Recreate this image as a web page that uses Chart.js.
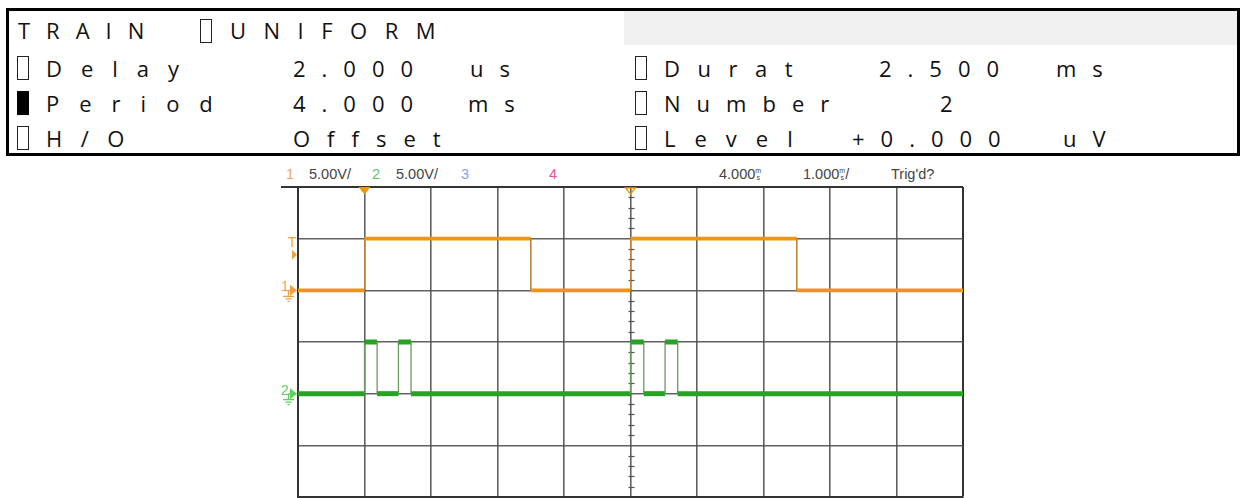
<!DOCTYPE html>
<html>
<head>
<meta charset="utf-8">
<script src="https://cdn.jsdelivr.net/npm/chart.js@4.4.1/dist/chart.umd.min.js"></script>
<style>
  html, body { margin: 0; padding: 0; background: #fff; }
  body { position: relative; width: 1243px; height: 498px; overflow: hidden; font-family: "Open Sans", "Noto Sans", sans-serif; }
  #panel { position: absolute; left: 6px; top: 8px; width: 1228px; height: 142px; border: 3px solid #000; }
  #band { position: absolute; left: 615px; top: 0; width: 613px; height: 34px; background: #f0f0f0; }
  .lcd { position: absolute; height: 30px; line-height: 30px; font-size: 22px; letter-spacing: 16px; color: #111; white-space: nowrap; }
  .cell { position: absolute; width: 10px; height: 22px; border: 1.5px solid #222; box-sizing: content-box; }
  .cell.on { background: #000; border-color: #000; }
  .hdr { position: absolute; top: 165px; height: 18px; line-height: 18px; font-family: "Liberation Sans", Arial, sans-serif; font-size: 14.5px; color: #444; white-space: nowrap; }
  .unit { display: inline-block; vertical-align: top; font-size: 7px; line-height: 7px; text-align: center; margin-top: 2px; }
  #scope { position: absolute; left: 0; top: 160px; width: 1243px; height: 338px; }
</style>
</head>
<body>
<div id="panel"><div id="band"></div></div>

<!-- row 1 -->
<div class="lcd" style="left:18px;top:15px">TRAIN</div>
<div class="cell" style="left:200px;top:19px"></div>
<div class="lcd" style="left:230px;top:15px;letter-spacing:17.5px">UNIFORM</div>
<!-- row 2 -->
<div class="cell" style="left:17px;top:56px"></div>
<div class="lcd" style="left:46px;top:53px;letter-spacing:19px">Delay</div>
<div class="lcd" style="left:293px;top:53px">2.000</div>
<div class="lcd" style="left:470px;top:53px">us</div>
<div class="cell" style="left:635px;top:56px"></div>
<div class="lcd" style="left:664px;top:53px;letter-spacing:17.5px">Durat</div>
<div class="lcd" style="left:879px;top:53px">2.500</div>
<div class="lcd" style="left:1056px;top:53px">ms</div>
<!-- row 3 -->
<div class="cell on" style="left:17px;top:91px"></div>
<div class="lcd" style="left:46px;top:88px;letter-spacing:20px">Period</div>
<div class="lcd" style="left:293px;top:88px">4.000</div>
<div class="lcd" style="left:468px;top:88px">ms</div>
<div class="cell" style="left:635px;top:91px"></div>
<div class="lcd" style="left:664px;top:88px">Number</div>
<div class="lcd" style="left:940px;top:88px">2</div>
<!-- row 4 -->
<div class="cell" style="left:17px;top:126px"></div>
<div class="lcd" style="left:46px;top:123px;letter-spacing:18.5px">H/O</div>
<div class="lcd" style="left:293px;top:123px;letter-spacing:17px">Offset</div>
<div class="cell" style="left:635px;top:126px"></div>
<div class="lcd" style="left:664px;top:123px;letter-spacing:19px">Level</div>
<div class="lcd" style="left:852px;top:123px">+0.000</div>
<div class="lcd" style="left:1063px;top:123px">uV</div>

<!-- scope status line -->
<div class="hdr" style="left:286px;color:#f5a55a">1</div>
<div class="hdr" style="left:309px">5.00V/</div>
<div class="hdr" style="left:372px;color:#5cc85c">2</div>
<div class="hdr" style="left:396px">5.00V/</div>
<div class="hdr" style="left:461px;color:#8ca0f0">3</div>
<div class="hdr" style="left:549px;color:#f050a8">4</div>
<div class="hdr" style="left:719px">4.000<span class="unit">m<br>s</span></div>
<div class="hdr" style="left:803px">1.000<span class="unit">m<br>s</span>/</div>
<div class="hdr" style="left:891px">Trig'd?</div>

<div id="scope"><canvas id="c"></canvas></div>

<script>
// Horizontal: 1 ms/div, 10 divisions, centred on 4 ms after the trigger
const TIME_MIN_MS = -1;
const TIME_MAX_MS = 9;
const TRIG_MS = 0;
const DELAY_MS = 4;
// Vertical: 6 divisions shown
const DIV_COUNT = 6;

// Channel 1: gate output (5 V/div, ground at division 4)
const CH1_VOLTS_PER_DIV = 5;
const CH1_GROUND_DIV = 4;
const ch1Times = [-1, 0, 0, 2.5, 2.5, 4, 4, 6.5, 6.5, 9];
const ch1Volts = [0, 0, 5, 5, 0, 0, 5, 5, 0, 0];

// Channel 2: pulse train, 2 pulses per period (5 V/div, ground at division 2)
const CH2_VOLTS_PER_DIV = 5;
const CH2_GROUND_DIV = 2;
const ch2Times = [-1, 0, 0, 0.19, 0.19, 0.51, 0.51, 0.70, 0.70, 4.0, 4.0, 4.2, 4.2, 4.52, 4.52, 4.71, 4.71, 9];
const ch2Volts = [0, 0, 5, 5, 0, 0, 5, 5, 0, 0, 5, 5, 0, 0, 5, 5, 0, 0];

const ORANGE = '#f0950f';
const ORANGE_DARK = '#a8650c';
const GREEN = '#26a322';
const GREEN_DARK = '#137313';

function toPoints(times, volts, vdiv, ground) {
  return times.map((t, i) => ({ x: t, y: ground + volts[i] / vdiv }));
}
const isEdge = ctx => ctx.p0.parsed.x === ctx.p1.parsed.x;

const scopeMarks = {
  id: 'scopeMarks',
  beforeDatasetsDraw(chart) {
    const { ctx, scales: { x, y } } = chart;
    // minor ticks on the centre graticule line
    const cx = Math.round(x.getPixelForValue(DELAY_MS)) + 0.5;
    ctx.save();
    ctx.strokeStyle = '#555';
    ctx.lineWidth = 1.2;
    for (let v = 0; v <= DIV_COUNT + 1e-9; v += 0.2) {
      if (Math.abs(v - Math.round(v)) < 1e-6) continue;
      const py = Math.round(y.getPixelForValue(v)) + 0.5;
      ctx.beginPath(); ctx.moveTo(cx - 3, py); ctx.lineTo(cx + 3, py); ctx.stroke();
    }
    ctx.restore();
  },
  afterDraw(chart) {
    const { ctx, chartArea: a, scales: { x, y } } = chart;
    ctx.save();
    // status-line rule
    ctx.strokeStyle = '#333'; ctx.lineWidth = 2;
    ctx.beginPath(); ctx.moveTo(281, a.top); ctx.lineTo(a.left, a.top); ctx.stroke();

    // trigger point (filled) and delay reference (hollow)
    const tx = x.getPixelForValue(TRIG_MS);
    ctx.fillStyle = ORANGE;
    ctx.beginPath(); ctx.moveTo(tx - 6, a.top); ctx.lineTo(tx + 6, a.top); ctx.lineTo(tx, a.top + 7.5); ctx.closePath(); ctx.fill();
    const dx = x.getPixelForValue(DELAY_MS);
    ctx.strokeStyle = ORANGE; ctx.lineWidth = 1.3;
    ctx.beginPath(); ctx.moveTo(dx - 5, a.top + 1); ctx.lineTo(dx + 5, a.top + 1); ctx.lineTo(dx, a.top + 7); ctx.closePath(); ctx.stroke();

    ctx.font = '14px "Liberation Sans", Arial, sans-serif';
    ctx.textAlign = 'center'; ctx.textBaseline = 'middle';

    // trigger level marker
    const trigY = y.getPixelForValue(CH1_GROUND_DIV + 1);
    ctx.fillStyle = '#f5a040';
    ctx.fillText('T', 292, trigY + 4);
    ctx.beginPath(); ctx.moveTo(292, trigY + 11); ctx.lineTo(297, trigY + 16); ctx.lineTo(292, trigY + 21); ctx.closePath(); ctx.fill();

    // channel ground markers
    const ground = (label, gy, color) => {
      ctx.fillStyle = color; ctx.strokeStyle = color; ctx.lineWidth = 1.3;
      ctx.fillText(label, 285, gy - 3);
      ctx.beginPath(); ctx.moveTo(290, gy - 5.5); ctx.lineTo(297, gy); ctx.lineTo(290, gy + 5.5); ctx.closePath(); ctx.fill();
      ctx.beginPath(); ctx.moveTo(288.5, gy); ctx.lineTo(291, gy); ctx.moveTo(288.5, gy); ctx.lineTo(288.5, gy + 5.5); ctx.stroke();
      ctx.beginPath();
      ctx.moveTo(283, gy + 6); ctx.lineTo(294, gy + 6);
      ctx.moveTo(285.5, gy + 8.5); ctx.lineTo(291.5, gy + 8.5);
      ctx.moveTo(287.5, gy + 11); ctx.lineTo(289.5, gy + 11);
      ctx.stroke();
    };
    ground('1', y.getPixelForValue(CH1_GROUND_DIV), '#f5a040');
    ground('2', y.getPixelForValue(CH2_GROUND_DIV), '#5fcf5a');
    ctx.restore();
  }
};

const gridColor = (max) => (c) => (c.tick && (c.tick.value === max) ? '#333' : 'rgba(80,80,80,0.9)');
const gridWidth = (max) => (c) => (c.tick && (c.tick.value === max) ? 2 : 1.6);

// a trace: thick acquisition band with thin transitions, plus a darker sampled core
function trace(label, points, color, dark, width, edgeWidth, edgeColor) {
  return [
    {
      label, data: points, borderColor: color, borderWidth: width, pointRadius: 0, tension: 0,
      segment: {
        borderWidth: c => isEdge(c) ? edgeWidth : width,
        borderColor: c => isEdge(c) ? edgeColor : color
      }
    },
    {
      label: label + ' core', data: points, borderColor: dark, borderWidth: 1, pointRadius: 0, tension: 0,
      borderDash: [7, 2, 2, 3, 11, 2, 3, 4],
      segment: { borderColor: c => isEdge(c) ? 'rgba(0,0,0,0)' : dark }
    }
  ];
}

new Chart(document.getElementById('c'), {
  type: 'line',
  data: {
    datasets: [
      ...trace('CH1', toPoints(ch1Times, ch1Volts, CH1_VOLTS_PER_DIV, CH1_GROUND_DIV), ORANGE, ORANGE_DARK, 3.6, 1, '#b9833f'),
      ...trace('CH2', toPoints(ch2Times, ch2Volts, CH2_VOLTS_PER_DIV, CH2_GROUND_DIV), GREEN, GREEN_DARK, 5, 1.3, '#6b9a60')
    ]
  },
  options: {
    responsive: true,
    maintainAspectRatio: false,
    animation: false,
    events: [],
    layout: { padding: { left: 298, right: 280, top: 27, bottom: 1 } },
    plugins: { legend: { display: false }, tooltip: { enabled: false }, title: { display: false } },
    scales: {
      x: {
        type: 'linear', min: TIME_MIN_MS, max: TIME_MAX_MS,
        ticks: { display: false, stepSize: 1 },
        grid: { color: gridColor(TIME_MAX_MS), lineWidth: gridWidth(TIME_MAX_MS), drawTicks: false },
        border: { color: '#333', width: 2 }
      },
      y: {
        type: 'linear', min: 0, max: DIV_COUNT,
        ticks: { display: false, stepSize: 1 },
        grid: { color: gridColor(DIV_COUNT), lineWidth: gridWidth(DIV_COUNT), drawTicks: false },
        border: { color: '#333', width: 2 }
      }
    }
  },
  plugins: [scopeMarks]
});
</script>
</body>
</html>
